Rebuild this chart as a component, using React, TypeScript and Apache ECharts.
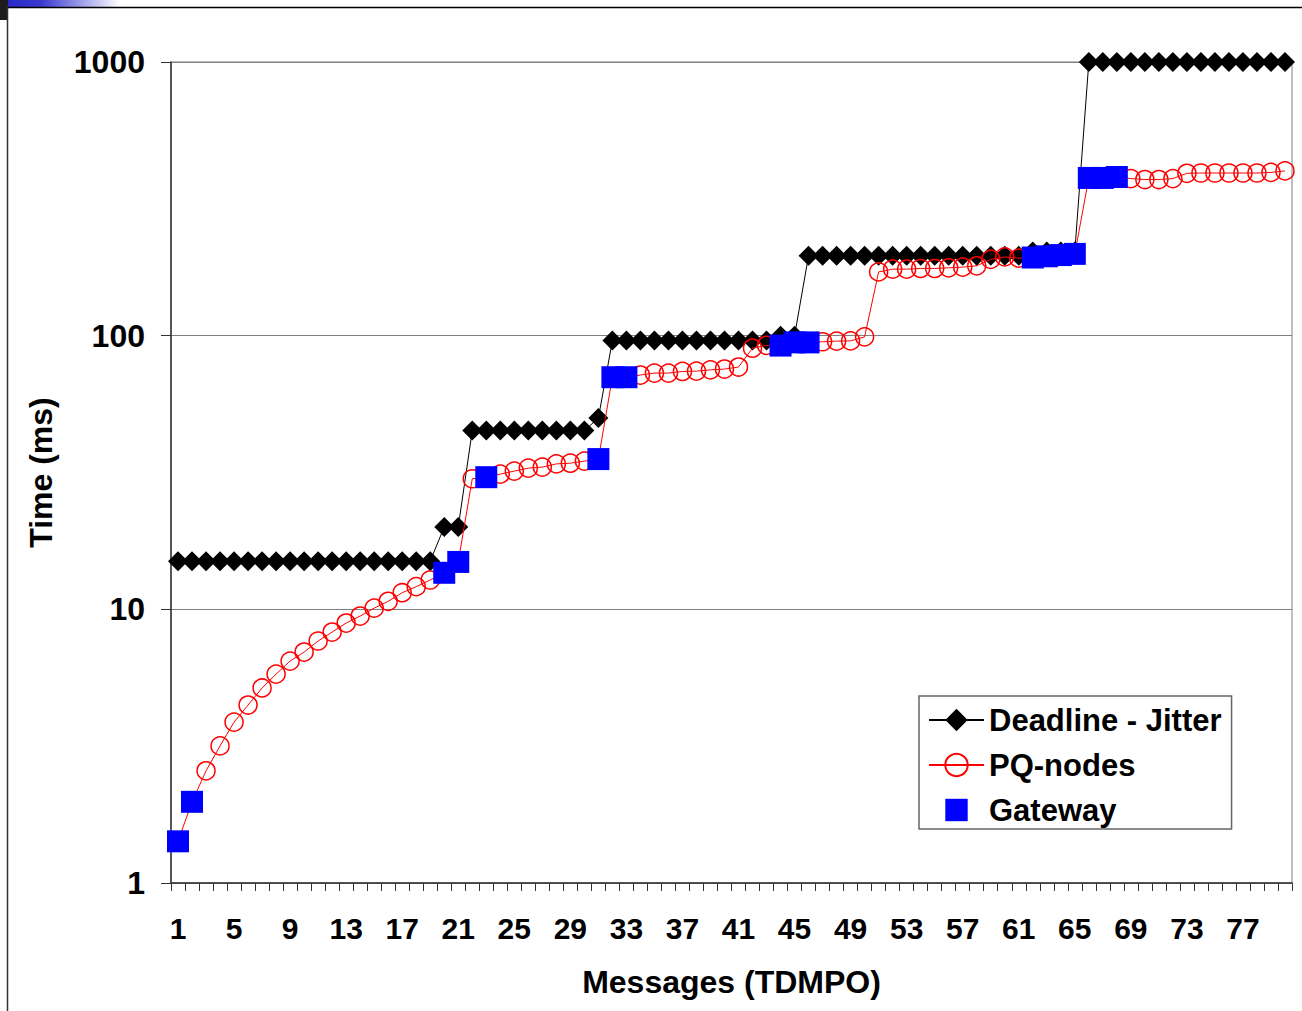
import React, { useEffect, useRef } from "react";
import * as echarts from "echarts";

const categories: string[] = Array.from({ length: 80 }, (_, i) => String(i + 1));

const yTickLabels = ["1", "10", "100", "1000"];

const deadlineJitter: number[] = [
  15, 15, 15, 15, 15, 15, 15, 15, 15, 15,
  15, 15, 15, 15, 15, 15, 15, 15, 15, 20,
  20, 45, 45, 45, 45, 45, 45, 45, 45, 45,
  50, 96, 96, 96, 96, 96, 96, 96, 96, 96,
  96, 96, 96, 100, 100, 196, 196, 196, 196, 196,
  196, 196, 196, 196, 196, 196, 196, 196, 196, 196,
  196, 203, 203, 203, 203, 1000, 1000, 1000, 1000, 1000,
  1000, 1000, 1000, 1000, 1000, 1000, 1000, 1000, 1000, 1000,
];

const pqNodes: number[] = [
  1.42, 1.98, 2.57, 3.17, 3.87, 4.47, 5.16, 5.8, 6.47, 6.98,
  7.66, 8.26, 8.91, 9.45, 10.1, 10.7, 11.5, 12.1, 12.8, 13.6,
  14.9, 30.0, 30.4, 31.2, 32.0, 32.8, 33.1, 34.0, 34.2, 34.8,
  35.4, 70.5, 70.5, 71.8, 73.0, 73.0, 74.0, 74.2, 75.0, 75.5,
  76.8, 90, 92.2, 92, 94.5, 94.5, 95, 95.5, 95.7, 99,
  171, 175, 175, 176, 176, 177, 178, 180, 190, 194,
  192, 193, 195, 197, 199, 377, 377, 380, 375, 372,
  372, 375, 392, 393, 393, 393, 393, 393, 395, 400,
];

const gatewayCategories: number[] = [1, 2, 20, 21, 23, 31, 32, 33, 44, 45, 46, 62, 63, 64, 65, 66, 67, 68];
const gatewayValues: number[] = [1.42, 1.98, 13.6, 14.9, 30.4, 35.4, 70.5, 70.5, 92, 94.5, 94.5, 193, 195, 197, 199, 377, 377, 380];

const FONT = "'Liberation Sans', Arial, sans-serif";

export default function App() {
  const ref = useRef<HTMLDivElement>(null);

  useEffect(() => {
    if (!ref.current) return;
    const chart = echarts.init(ref.current, undefined, { renderer: "svg" });

    const gatewaySeries: (number | string)[] = categories.map(() => "-");
    gatewayCategories.forEach((c, i) => {
      gatewaySeries[c - 1] = gatewayValues[i];
    });

    const boldText = { fontFamily: FONT, fontWeight: "bold" as const, color: "#000" };

    const option: any = {
      animation: false,
      backgroundColor: "#ffffff",
      textStyle: { fontFamily: FONT },
      grid: {
        left: 171,
        right: 10,
        top: 62,
        bottom: 128,
        show: true,
        borderColor: "#808080",
        borderWidth: 1,
      },
      xAxis: {
        type: "category",
        data: categories,
        boundaryGap: true,
        name: "Messages (TDMPO)",
        nameLocation: "middle",
        nameGap: 83,
        nameTextStyle: { ...boldText, fontSize: 32 },
        axisLine: { show: true, lineStyle: { color: "#333", width: 1.5 } },
        axisTick: { show: true, interval: 0, length: 8, lineStyle: { color: "#333", width: 1 } },
        axisLabel: { ...boldText, interval: 3, fontSize: 30, margin: 30 },
        splitLine: { show: false },
      },
      yAxis: {
        type: "log",
        logBase: 10,
        min: 1,
        max: 1000,
        name: "Time (ms)",
        nameLocation: "middle",
        nameGap: 114,
        nameRotate: 90,
        nameTextStyle: { ...boldText, fontSize: 32 },
        axisLine: { show: true, lineStyle: { color: "#333", width: 1.5 } },
        axisTick: { show: true, length: 10, lineStyle: { color: "#333", width: 1 } },
        axisLabel: {
          ...boldText,
          fontSize: 32,
          margin: 26,
          formatter: (v: number) => {
            const idx = Math.round(Math.log10(v));
            return yTickLabels[idx] ?? String(v);
          },
        },
        splitLine: { show: true, lineStyle: { color: "#808080", width: 1 } },
        minorTick: { show: false },
      },
      legend: {
        orient: "vertical",
        left: 919,
        top: 696,
        padding: [7, 10, 2, 9],
        itemWidth: 55,
        itemHeight: 28,
        itemGap: 11,
        borderColor: "#666",
        borderWidth: 1.5,
        backgroundColor: "#fff",
        textStyle: { ...boldText, fontSize: 31, lineHeight: 34 },
        data: ["Deadline - Jitter", "PQ-nodes", "Gateway"],
      },
      graphic: [
        { type: "rect", shape: { x: 0, y: 0, width: 8, height: 20 }, style: { fill: "#1c1c1c" }, silent: true },
        {
          type: "rect",
          shape: { x: 8, y: 0, width: 112, height: 7 },
          style: {
            fill: new echarts.graphic.LinearGradient(0, 0, 1, 0, [
              { offset: 0, color: "#2828c8" },
              { offset: 0.3, color: "#3a3ad0" },
              { offset: 1, color: "#ffffff" },
            ]),
          },
          silent: true,
        },
        { type: "line", shape: { x1: 8, y1: 7.5, x2: 1302, y2: 7.5 }, style: { stroke: "#000", lineWidth: 1.5 }, silent: true },
        { type: "line", shape: { x1: 7.5, y1: 7, x2: 7.5, y2: 1011 }, style: { stroke: "#333", lineWidth: 1.5 }, silent: true },
      ],
      series: [
        {
          name: "Deadline - Jitter",
          type: "line",
          data: deadlineJitter,
          symbol: "diamond",
          symbolSize: 20,
          showAllSymbol: true,
          z: 2,
          lineStyle: { color: "#000", width: 1 },
          itemStyle: { color: "#000" },
        },
        {
          name: "PQ-nodes",
          type: "line",
          data: pqNodes,
          symbol: "circle",
          symbolSize: 18,
          showAllSymbol: true,
          z: 3,
          lineStyle: { color: "#ff0000", width: 1 },
          itemStyle: { color: "rgba(255,255,255,0)", borderColor: "#ff0000", borderWidth: 1.5 },
        },
        {
          name: "Gateway",
          type: "line",
          data: gatewaySeries,
          connectNulls: false,
          symbol: "rect",
          symbolSize: 22,
          showAllSymbol: true,
          z: 4,
          lineStyle: { width: 0, opacity: 0 },
          itemStyle: { color: "#0000ff" },
        },
      ],
    };

    chart.setOption(option);
    return () => chart.dispose();
  }, []);

  return (
    <div
      ref={ref}
      style={{ position: "absolute", left: 0, top: 0, width: 1302, height: 1011, background: "#fff" }}
    />
  );
}
